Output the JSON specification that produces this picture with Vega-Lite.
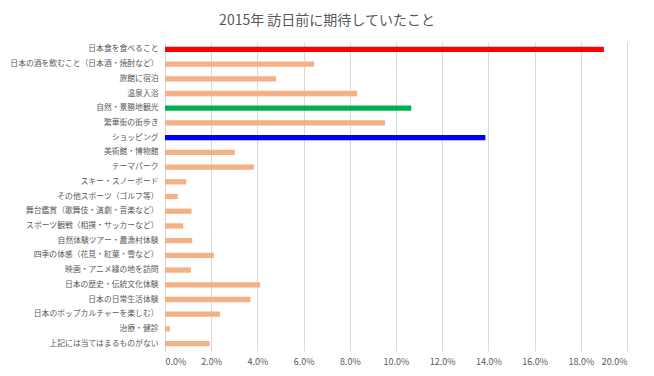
{
  "$schema": "https://vega.github.io/schema/vega-lite/v6.json",
  "autosize": "none",
  "width": 462,
  "height": 309,
  "padding": {"left": 165, "top": 42, "right": 27, "bottom": 25},
  "background": "white",
  "title": {"text": "2015年 訪日前に期待していたこと", "font": "Noto Sans CJK JP", "fontSize": 14, "fontWeight": "normal", "color": "#595959", "anchor": "middle", "dx": -69, "offset": 14},
  "data": {"values": [
    {"item": "日本食を食べること", "value": 0.190, "group": "日本食"},
    {"item": "日本の酒を飲むこと（日本酒・焼酎など）", "value": 0.0646, "group": "その他"},
    {"item": "旅館に宿泊", "value": 0.0481, "group": "その他"},
    {"item": "温泉入浴", "value": 0.0832, "group": "その他"},
    {"item": "自然・景勝地観光", "value": 0.1066, "group": "自然"},
    {"item": "繁華街の街歩き", "value": 0.0953, "group": "その他"},
    {"item": "ショッピング", "value": 0.1387, "group": "ショッピング"},
    {"item": "美術館・博物館", "value": 0.0302, "group": "その他"},
    {"item": "テーマパーク", "value": 0.0385, "group": "その他"},
    {"item": "スキー・スノーボード", "value": 0.0092, "group": "その他"},
    {"item": "その他スポーツ（ゴルフ等）", "value": 0.0055, "group": "その他"},
    {"item": "舞台鑑賞（歌舞伎・演劇・音楽など）", "value": 0.0115, "group": "その他"},
    {"item": "スポーツ観戦（相撲・サッカーなど）", "value": 0.0079, "group": "その他"},
    {"item": "自然体験ツアー・農漁村体験", "value": 0.0118, "group": "その他"},
    {"item": "四季の体感（花見・紅葉・雪など）", "value": 0.0211, "group": "その他"},
    {"item": "映画・アニメ縁の地を訪問", "value": 0.0112, "group": "その他"},
    {"item": "日本の歴史・伝統文化体験", "value": 0.0412, "group": "その他"},
    {"item": "日本の日常生活体験", "value": 0.0370, "group": "その他"},
    {"item": "日本のポップカルチャーを楽しむ）", "value": 0.0239, "group": "その他"},
    {"item": "治療・健診", "value": 0.0021, "group": "その他"},
    {"item": "上記には当てはまるものがない", "value": 0.0193, "group": "その他"}
  ]},
  "mark": {"type": "bar"},
  "encoding": {
    "y": {"field": "item", "type": "nominal", "sort": null,
      "scale": {"paddingInner": 0.64, "paddingOuter": 0.32},
      "axis": {"title": null, "ticks": false, "domain": false, "labelFont": "Noto Sans CJK JP", "labelFontSize": 7.8, "labelColor": "#595959", "labelPadding": 7, "labelLimit": 200}},
    "x": {"field": "value", "type": "quantitative",
      "scale": {"domain": [0, 0.2]},
      "axis": {"title": null, "format": ".1%", "values": [0,0.02,0.04,0.06,0.08,0.1,0.12,0.14,0.16,0.18,0.2], "labelOverlap": false, "ticks": false, "domain": false, "grid": true, "gridColor": "#d9d9d9", "labelFont": "Noto Sans CJK JP", "labelFontSize": 9, "labelColor": "#595959", "labelPadding": 6}},
    "color": {"field": "group", "type": "nominal", "legend": null,
      "scale": {"domain": ["日本食", "自然", "ショッピング", "その他"], "range": ["#FF0000", "#00B050", "#0000FF", "#F4B183"]}}
  },
  "config": {"view": {"stroke": null}}
}
